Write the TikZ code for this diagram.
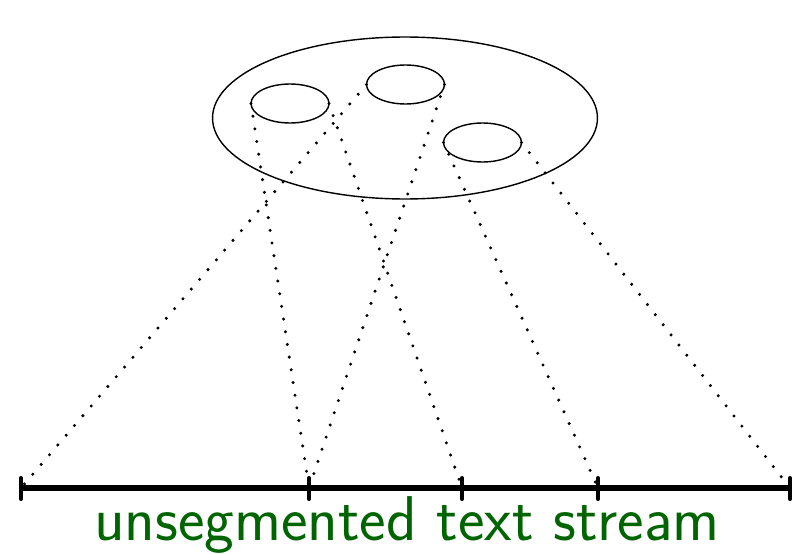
\documentclass[tikz,border=0pt]{standalone}
\usetikzlibrary{shapes.geometric}
\definecolor{mygreen}{RGB}{0,100,0}
\tikzset{
  blob/.style={ellipse,draw,line width=0.8pt,inner sep=0,outer sep=0,
    minimum width=1.56cm,minimum height=0.78cm},
  dotline/.style={line width=1.9pt,line cap=round,dash pattern=on 0pt off 7.3pt}
}
\begin{document}
\begin{tikzpicture}[x=0.02cm,y=-0.02cm]
\useasboundingbox (0,0) rectangle (798,554);
%corpus and its parts
\node[ellipse,draw,line width=0.8pt,inner sep=0,outer sep=0,
  minimum width=7.7cm,minimum height=3.24cm] (corpus) at (405,118) {};
\node[blob] (w1) at (290,103.5) {};
\node[blob] (w2) at (405.5,84.5) {};
\node[blob] (w3) at (482.5,142.5) {};
%stream
\foreach \x/\n in {21/t1,309/t2,462/t3,598/t4,790/t5}{
 \coordinate (\n) at (\x,488);
}
\draw[line width=3pt] (t1) -- (t5);
\foreach \n in {t1,t2,t3,t4,t5}{
 \draw[line width=2.3pt,line cap=round] (\n) ++(0,-10) -- ++(0,21);
}
%links
\draw[dotline] (w2.west) -- (t1);
\draw[dotline] (w1.west) -- (t2);
\draw[dotline] (w2.east) -- (t2);
\draw[dotline] (w1.east) -- (t3);
\draw[dotline] (w3.west) -- (t4);
\draw[dotline] (w3.east) -- (t5);
\node[anchor=base,text=mygreen,font=\sffamily\fontsize{36}{42}\selectfont] (stream) at (407,540) {unsegmented text stream};
\end{tikzpicture}
\end{document}
